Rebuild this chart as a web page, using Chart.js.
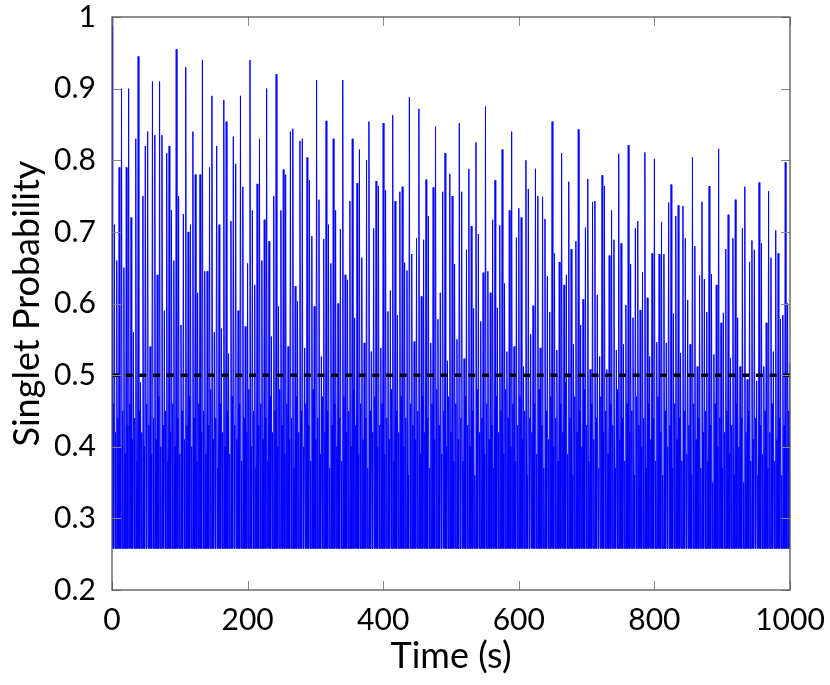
<!DOCTYPE html>
<html>
<head>
<meta charset="utf-8">
<script src="https://cdn.jsdelivr.net/npm/chart.js@4.4.1/dist/chart.umd.min.js"></script>
<style>
  body { margin: 0; background: #fff; }
</style>
</head>
<body>
<canvas id="myChart" width="830" height="685"></canvas>
<script>
// spike maxima, left to right
const peaks = [
  1.0, 0.71, 0.66, 0.79, 0.90, 0.65, 0.79, 0.90, 0.72, 0.56, 0.83, 0.945, 0.49, 0.75, 0.82, 0.84,
  0.54, 0.91, 0.835, 0.64, 0.91, 0.835, 0.59, 0.81, 0.82, 0.73, 0.66, 0.955, 0.75, 0.57, 0.725, 0.93,
  0.70, 0.71, 0.84, 0.78, 0.615, 0.78, 0.94, 0.645, 0.645, 0.79, 0.89, 0.56, 0.82, 0.71,
  0.565, 0.884, 0.854, 0.53, 0.715, 0.833, 0.795, 0.59, 0.89, 0.763, 0.568, 0.656, 0.94, 0.73, 0.626, 0.767,
  0.83, 0.66, 0.717, 0.90, 0.687, 0.554, 0.75, 0.92, 0.596, 0.73, 0.787, 0.78, 0.54, 0.84, 0.844, 0.624,
  0.603, 0.827, 0.83, 0.538, 0.804, 0.772, 0.694, 0.596, 0.912, 0.745, 0.526, 0.69, 0.855, 0.71, 0.656, 0.83, 0.73,
  0.60, 0.704, 0.912, 0.64, 0.633, 0.743, 0.83, 0.58, 0.768, 0.815, 0.664, 0.545, 0.80, 0.854, 0.533, 0.705,
  0.771, 0.764, 0.538, 0.852, 0.758, 0.589, 0.618, 0.863, 0.743, 0.584, 0.756, 0.763, 0.657, 0.646, 0.888, 0.669,
  0.547, 0.691, 0.872, 0.61, 0.689, 0.773, 0.722, 0.545, 0.762, 0.847, 0.578, 0.615, 0.756, 0.81, 0.52, 0.781, 0.75,
  0.655, 0.55, 0.852, 0.756, 0.523, 0.675, 0.788, 0.708, 0.593, 0.825, 0.697, 0.575, 0.643, 0.875, 0.645, 0.615,
  0.717, 0.772, 0.594, 0.709, 0.815, 0.628, 0.533, 0.73, 0.84, 0.54, 0.692, 0.733, 0.72, 0.512, 0.80, 0.76,
  0.557, 0.597, 0.788, 0.75, 0.538, 0.749, 0.718, 0.638, 0.588, 0.854, 0.67, 0.535, 0.658, 0.81, 0.626, 0.64, 0.77,
  0.676, 0.543, 0.687, 0.843, 0.57, 0.606, 0.706, 0.774, 0.508, 0.742, 0.743, 0.612, 0.526, 0.779, 0.764, 0.508,
  0.667, 0.73, 0.689, 0.535, 0.809, 0.684, 0.543, 0.598, 0.821, 0.655, 0.58, 0.705, 0.715, 0.591, 0.644, 0.811,
  0.608, 0.526, 0.67, 0.802, 0.546, 0.669, 0.714, 0.669, 0.545, 0.741, 0.766, 0.586, 0.722, 0.737, 0.531, 0.736,
  0.691, 0.605, 0.543, 0.804, 0.68, 0.512, 0.639, 0.742, 0.634, 0.588, 0.764, 0.641, 0.529, 0.626, 0.816, 0.573,
  0.587, 0.676, 0.724, 0.524, 0.691, 0.745, 0.58, 0.512, 0.705, 0.763, 0.494, 0.658, 0.688, 0.675, 0.492, 0.769,
  0.684, 0.512, 0.573, 0.757, 0.664, 0.533, 0.702, 0.67, 0.578, 0.584, 0.797, 0.60, 0.517
];

// small maxima between the spikes (where the white gaps stop)
const mids = [
  0.46, 0.42, 0.44, 0.40, 0.45, 0.39, 0.43, 0.46, 0.41, 0.44, 0.38, 0.45, 0.42, 0.40, 0.46, 0.43,
  0.39, 0.44, 0.41, 0.47, 0.40, 0.43, 0.45, 0.38, 0.42, 0.46, 0.40, 0.44, 0.39, 0.45, 0.41, 0.43,
  0.47, 0.40, 0.44, 0.38, 0.46, 0.42, 0.45, 0.39, 0.43, 0.48, 0.41, 0.44, 0.37, 0.46, 0.42, 0.40,
  0.45, 0.39, 0.47, 0.43, 0.41, 0.46, 0.38, 0.44, 0.42, 0.48, 0.40, 0.45, 0.37, 0.43, 0.46, 0.41,
  0.44, 0.38, 0.47, 0.42, 0.45, 0.40, 0.48, 0.43, 0.39, 0.46, 0.41, 0.44, 0.37, 0.47, 0.42, 0.45,
  0.40, 0.46, 0.43, 0.38, 0.48, 0.41, 0.44, 0.39, 0.47, 0.42, 0.45, 0.37, 0.43, 0.46, 0.40, 0.44,
  0.38, 0.47, 0.42, 0.45, 0.40, 0.48, 0.43, 0.39, 0.46, 0.41, 0.44, 0.37, 0.45, 0.42, 0.47, 0.40,
  0.43, 0.46, 0.39, 0.44, 0.41, 0.48, 0.38, 0.45, 0.42, 0.47, 0.40, 0.44, 0.36, 0.46, 0.43, 0.41,
  0.45, 0.39, 0.47, 0.42, 0.44, 0.37, 0.46, 0.41, 0.48, 0.43, 0.39, 0.45, 0.40, 0.47, 0.42, 0.38,
  0.46, 0.41, 0.44, 0.38, 0.47, 0.43, 0.40, 0.45, 0.36, 0.48, 0.42, 0.44, 0.39, 0.46, 0.41, 0.43,
  0.37, 0.47, 0.42, 0.45, 0.39, 0.48, 0.44, 0.40, 0.46, 0.38, 0.43, 0.47, 0.41, 0.45, 0.36, 0.44,
  0.42, 0.46, 0.39, 0.48, 0.43, 0.37, 0.45, 0.41, 0.47, 0.40, 0.44, 0.38, 0.46, 0.42, 0.49, 0.39,
  0.44, 0.36, 0.47, 0.42, 0.45, 0.40, 0.48, 0.43, 0.38, 0.46, 0.41, 0.44, 0.37, 0.47, 0.42, 0.45,
  0.39, 0.46, 0.43, 0.37, 0.48, 0.41, 0.44, 0.38, 0.46, 0.42, 0.45, 0.36, 0.47, 0.43, 0.40, 0.44,
  0.37, 0.46, 0.41, 0.44, 0.38, 0.47, 0.42, 0.36, 0.45, 0.40, 0.43, 0.37, 0.46, 0.41, 0.44, 0.38,
  0.45, 0.39, 0.43, 0.36, 0.46, 0.41, 0.44, 0.37, 0.42, 0.45, 0.38, 0.43, 0.35, 0.46, 0.40, 0.44,
  0.37, 0.42, 0.45, 0.39, 0.43, 0.36, 0.46, 0.40, 0.44, 0.35, 0.42, 0.45, 0.38, 0.41, 0.44, 0.36,
  0.43, 0.39, 0.45, 0.37, 0.42, 0.46, 0.38, 0.41, 0.44, 0.36, 0.43, 0.40, 0.45, 0.37
];

const trough = 0.258;   // floor of the signal
const tStart = 0;
const tEnd = 1000;
const threshold = 0.5;
const xTicks = [0, 200, 400, 600, 800, 1000];
const yTicks = [0.2, 0.3, 0.4, 0.5, 0.6, 0.7, 0.8, 0.9, 1];

const FONT = 'Lato, "Open Sans", sans-serif';

// peak -> floor -> small bump -> floor -> next peak
const step = (tEnd - tStart) / (peaks.length - 1);
const signal = [];
peaks.forEach((p, i) => {
  const t = tStart + i * step;
  signal.push({ x: t, y: p });
  if (i === peaks.length - 1) return;
  signal.push({ x: t + step * 0.3, y: trough });
  if (mids[i] !== undefined) signal.push({ x: t + step * 0.5, y: mids[i] });
  signal.push({ x: t + step * 0.7, y: trough });
});

// pgfplots-like box with ticks pointing inwards
const frame = {
  id: 'frame',
  afterDatasetsDraw(chart) {
    const { ctx, chartArea: a, scales: { x, y } } = chart;
    ctx.save();
    ctx.strokeStyle = '#888';
    ctx.lineWidth = 1;
    ctx.beginPath();
    xTicks.forEach(v => {
      const px = Math.round(x.getPixelForValue(v)) + 0.5;
      ctx.moveTo(px, a.bottom); ctx.lineTo(px, a.bottom - 9);
      ctx.moveTo(px, a.top); ctx.lineTo(px, a.top + 9);
    });
    yTicks.forEach(v => {
      const py = Math.round(y.getPixelForValue(v)) + 0.5;
      ctx.moveTo(a.left, py); ctx.lineTo(a.left + 9, py);
      ctx.moveTo(a.right, py); ctx.lineTo(a.right - 9, py);
    });
    ctx.stroke();
    ctx.strokeStyle = '#555';
    ctx.lineWidth = 1.3;
    ctx.strokeRect(a.left, a.top, a.right - a.left, a.bottom - a.top);
    ctx.restore();
  }
};

const ctx = document.getElementById('myChart');

new Chart(ctx, {
  type: 'line',
  data: {
    datasets: [
      {
        label: 'threshold',
        data: [{ x: tStart, y: threshold }, { x: tEnd, y: threshold }],
        borderColor: '#000',
        borderWidth: 3.5,
        borderDash: [7, 6.7],
        pointRadius: 0
      },
      {
        label: 'singlet',
        data: signal,
        borderColor: 'rgb(0, 0, 255)',
        borderWidth: 1,
        pointRadius: 0,
        tension: 0
      }
    ]
  },
  options: {
    responsive: false,
    animation: false,
    events: [],
    layout: { padding: 0 },
    plugins: {
      legend: { display: false },
      tooltip: { enabled: false }
    },
    scales: {
      x: {
        type: 'linear',
        min: tStart,
        max: tEnd,
        grid: { display: false, drawTicks: false },
        border: { display: false },
        ticks: {
          stepSize: 200,
          maxRotation: 0,
          padding: 12,
          color: '#000',
          font: { family: FONT, size: 30 },
          callback: v => String(v)
        },
        title: {
          display: true,
          text: 'Time (s)',
          color: '#000',
          font: { family: FONT, size: 36 },
          padding: { top: 0, bottom: 7 }
        },
        afterFit(s) {
          s.height = 95;
          s.paddingLeft = 0;
          s.paddingRight = 40;
        }
      },
      y: {
        min: 0.2,
        max: 1,
        grid: { display: false, drawTicks: false },
        border: { display: false },
        ticks: {
          stepSize: 0.1,
          padding: 16,
          color: '#000',
          font: { family: FONT, size: 30 },
          callback: v => Math.abs(v - 1) < 1e-9 ? '1' : v.toFixed(1)
        },
        title: {
          display: true,
          text: 'Singlet Probability',
          color: '#000',
          font: { family: FONT, size: 36 },
          padding: { top: 6, bottom: 0 }
        },
        afterFit(s) {
          s.width = 112;
          s.paddingTop = 17;
          s.paddingBottom = 0;
        }
      }
    }
  },
  plugins: [frame]
});
</script>
</body>
</html>
